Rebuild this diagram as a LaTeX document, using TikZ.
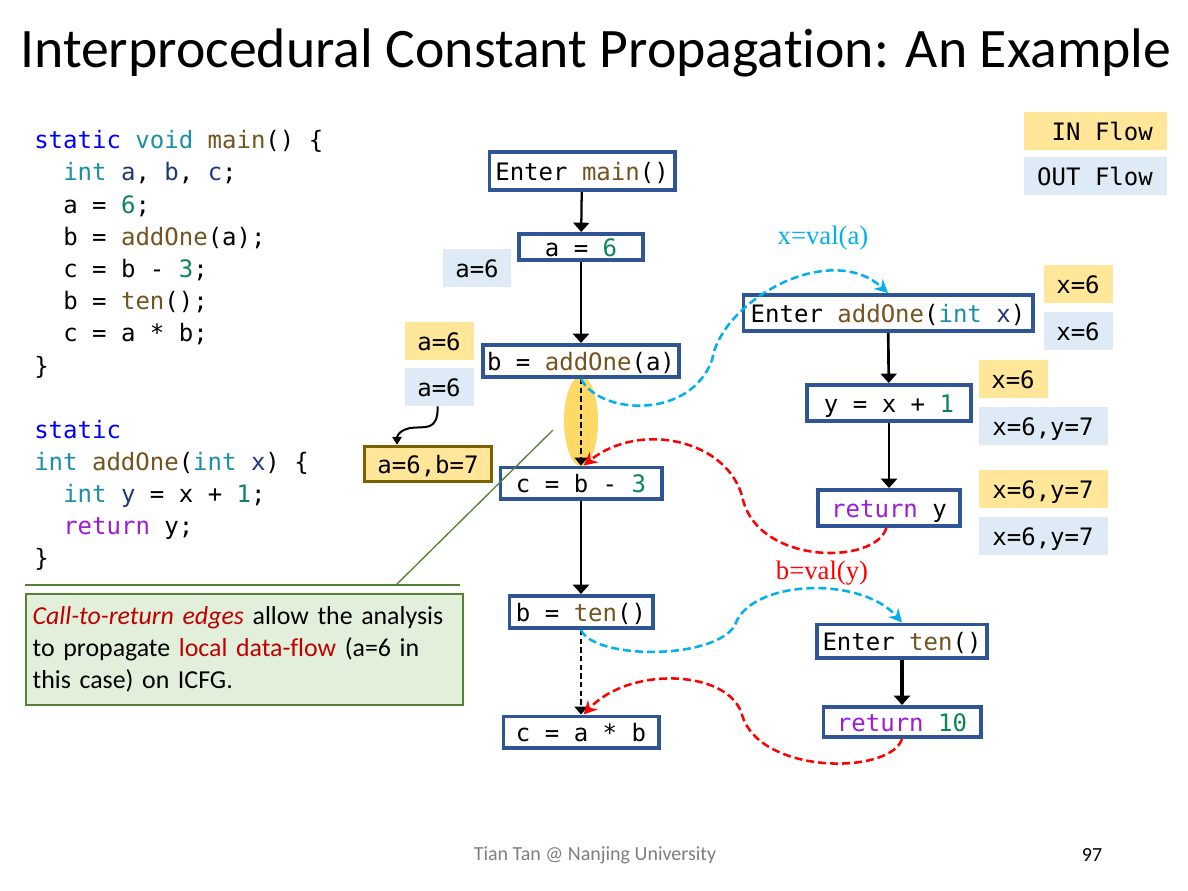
\documentclass[tikz,border=0pt]{standalone}
\usepackage{fontspec}
\usetikzlibrary{arrows.meta,shapes.geometric}
\setmainfont{Carlito}[Ligatures={NoCommon}]
\newfontfamily\codefont{DejaVu Sans Mono}
\newfontfamily\valfont{Liberation Serif}
\definecolor{boxblue}{HTML}{2F5597}
\definecolor{kwblue}{HTML}{0000FF}
\definecolor{tyteal}{HTML}{1A8FA8}
\definecolor{fnbrown}{HTML}{74531F}
\definecolor{numgreen}{HTML}{098658}
\definecolor{varnavy}{HTML}{1F377F}
\definecolor{retpurple}{HTML}{9B1BD6}
\definecolor{infill}{HTML}{FFE699}
\definecolor{outfill}{HTML}{DEEBF7}
\definecolor{abborder}{HTML}{7F6000}
\definecolor{hlfill}{HTML}{FFD966}
\definecolor{notefill}{HTML}{E2EFDA}
\definecolor{notedraw}{HTML}{548235}
\definecolor{callcyan}{HTML}{00B0F0}
\definecolor{retred}{HTML}{FF0000}
\definecolor{emred}{HTML}{C00000}
\definecolor{footgray}{HTML}{7F7F7F}
\newcommand\cKw[1]{\textcolor{kwblue}{#1}}
\newcommand\cTy[1]{\textcolor{tyteal}{#1}}
\newcommand\cFn[1]{\textcolor{fnbrown}{#1}}
\newcommand\cNum[1]{\textcolor{numgreen}{#1}}
\newcommand\cVar[1]{\textcolor{varnavy}{#1}}
\newcommand\cRet[1]{\textcolor{retpurple}{#1}}
\newcommand\mono{\codefont\fontsize{18pt}{20pt}\selectfont}
\tikzset{
  code/.style={anchor=base west, inner sep=0pt, font=\mono},
  cfg/.style={draw=boxblue, line width=2.7pt, fill=white, font=\mono, inner sep=0pt, text height=15.5pt, text depth=2pt},
  sz/.style 2 args={minimum width=#1*0.75pt-2.7pt, minimum height=#2*0.75pt-2.7pt},
  flowbox/.style={inner sep=0pt, font=\mono, text height=15.5pt, text depth=2pt, minimum height=38*0.75pt},
  inflow/.style={flowbox, fill=infill},
  outflow/.style={flowbox, fill=outfill},
  flowarrow/.style={-{Triangle[width=12pt,length=7pt]}, line width=1.7pt},
  ctrarrow/.style={-{Triangle[width=10pt,length=6pt]}, line width=1.1pt, dash pattern=on 4pt off 2.5pt},
  callarrow/.style={draw=callcyan, line width=1.9pt, dash pattern=on 6pt off 3pt, -{Stealth[length=10pt,width=10pt]}},
  retarrow/.style={draw=retred, line width=1.9pt, dash pattern=on 6pt off 3pt, -{Stealth[length=10pt,width=10pt]}},
  leader/.style={draw=notedraw, line width=1pt}
}
\begin{document}
\begin{tikzpicture}[x=0.75pt,y=-0.75pt]
\useasboundingbox (0,0) rectangle (1188,890);
\fill[white] (0,0) rectangle (1188,890);

% title
\node[anchor=base west, inner sep=0pt, font=\fontsize{41.8pt}{50pt}\selectfont] (title) at (20,67) {Interprocedural Constant Propagation: An Example};

% code
\node[code] (l1) at (34,148) {\cKw{static} \cTy{void} \cFn{main}() \{};
\node[code] (l2) at (63,180) {\cTy{int} \cVar{a}, \cVar{b}, \cVar{c};};
\node[code] (l3) at (63,213) {a = \cNum{6};};
\node[code] (l4) at (63,245) {b = \cFn{addOne}(a);};
\node[code] (l5) at (63,277) {c = b - \cNum{3};};
\node[code] (l6) at (63,309) {b = \cFn{ten}();};
\node[code] (l7) at (63,341) {c = a * b;};
\node[code] (l8) at (34,374) {\}};
\node[code] (l9) at (34,438) {\cKw{static}};
\node[code] (l10) at (34,470) {\cTy{int} \cFn{addOne}(\cTy{int} \cVar{x}) \{};
\node[code] (l11) at (63,502) {\cTy{int} \cVar{y} = x + \cNum{1};};
\node[code] (l12) at (63,534) {\cRet{return} y;};
\node[code] (l13) at (34,566) {\}};

% legend
\node[inflow, minimum width=143*0.75pt] (inleg) at (1095,131) {\phantom{X}IN Flow};
\node[outflow, minimum width=143*0.75pt] (outleg) at (1095,176) {OUT Flow};

% highlight ellipse
\node[ellipse, fill=hlfill, draw=none, minimum width=34*0.75pt, minimum height=90*0.75pt, inner sep=0pt] (hl) at (581,421) {};

% main CFG
\node[cfg, sz={189}{42}] (emain) at (582,171) {Enter \cFn{main}()};
\node[cfg, sz={128}{30}] (a6) at (581,247) {a = \cNum{6}};
\node[cfg, sz={200}{36}] (badd) at (581,361) {b = \cFn{addOne}(a)};
\node[cfg, sz={165}{35}] (cb3) at (581,483) {c = b - \cNum{3}};
\node[cfg, sz={147}{36}] (bten) at (581,612) {b = \cFn{ten}()};
\node[cfg, sz={159}{35}] (cab) at (581,732) {c = a * b};

% addOne CFG
\node[cfg, sz={293}{40}] (eadd) at (888,313) {Enter \cFn{addOne}(\cTy{int} \cVar{x})};
\node[cfg, sz={168}{40}] (yx1) at (889,403) {y = x + \cNum{1}};
\node[cfg, sz={146}{40}] (rety) at (889,508) {\cRet{return} y};

% ten CFG
\node[cfg, sz={174}{37}] (eten) at (902,641) {Enter \cFn{ten}()};
\node[cfg, sz={161}{34}] (ret10) at (902,722) {\cRet{return} \cNum{10}};

% flow facts
\node[outflow, minimum width=68*0.75pt] (fa1) at (477,268) {a=6};
\node[inflow, minimum width=69*0.75pt] (fa2) at (439,341) {a=6};
\node[outflow, minimum width=69*0.75pt] (fa3) at (439,387) {a=6};
\node[inflow, draw=abborder, line width=2.5pt, minimum width=127*0.75pt, minimum height=35*0.75pt] (fab) at (428,464) {a=6,b=7};
\node[inflow, minimum width=69*0.75pt] (fx1) at (1078,284) {x=6};
\node[outflow, minimum width=69*0.75pt] (fx2) at (1078,331) {x=6};
\node[inflow, minimum width=69*0.75pt] (fx3) at (1013,379) {x=6};
\node[outflow, minimum width=129*0.75pt] (fx4) at (1043,426) {x=6,y=7};
\node[inflow, minimum width=129*0.75pt] (fx5) at (1043,489) {x=6,y=7};
\node[outflow, minimum width=129*0.75pt] (fx6) at (1043,536) {x=6,y=7};

% intra edges
\draw[flowarrow] (emain) -- (a6);
\draw[flowarrow] (a6) -- (badd);
\draw[ctrarrow] (badd) -- (cb3);
\draw[flowarrow] (cb3) -- (bten);
\draw[ctrarrow] (bten) -- (cab);
\draw[flowarrow, line width=2pt] (eadd) -- (yx1);
\draw[flowarrow, line width=2pt] (yx1) -- (rety);
\draw[flowarrow, line width=2.3pt] (eten) -- (ret10);

% call / return edges
\draw[callarrow] (badd.south) .. controls (600,415) and (690,420) .. (712,360) .. controls (722,300) and (830,240) .. (eadd.north);
\draw[retarrow] ([xshift=-2pt]rety.south) .. controls (875,565) and (760,565) .. (743,500) .. controls (730,440) and (640,420) .. ([xshift=2pt]cb3.north);
\draw[callarrow] (bten.south) .. controls (595,660) and (715,660) .. (735,625) .. controls (750,580) and (860,575) .. (eten.north);
\draw[retarrow] (ret10.south) .. controls (890,775) and (760,775) .. (742,715) .. controls (730,670) and (630,665) .. ([xshift=2pt]cab.north);

% edge labels
\node[font=\valfont\fontsize{20pt}{24pt}\selectfont, text=callcyan, inner sep=0pt] (lblx) at (823,238) {x=val(a)};
\node[font=\valfont\fontsize{20pt}{24pt}\selectfont, text=retred, inner sep=0pt] (lblb) at (822,573) {b=val(y)};

% curly arrow
\draw[line width=1.5pt, -{Triangle[width=7pt,length=6pt]}] ([xshift=-1pt]fa3.south) .. controls (438,432) and (425,426) .. (410,428) .. controls (397,431) and (397,438) .. ([xshift=-31*0.75pt]fab.north);

% callout
\coordinate (nl) at (25,585);
\coordinate (nr) at (460,585);
\coordinate (nk) at (396,585);
\coordinate (ntip) at (553,430);
\draw[leader, line width=1.4pt] (nl) -- (nr);
\draw[leader] (nk) -- (ntip);
\node[anchor=north west, fill=notefill, draw=notedraw, line width=1.5pt, minimum width=434*0.75pt, minimum height=111*0.75pt, text width=424*0.75pt, inner xsep=5pt, inner ysep=0pt, align=left, font=\fontsize{19.4pt}{24pt}\selectfont] (note) at (25,593) {\textcolor{emred}{\itshape Call-to-return edges} allow the analysis\\ to propagate \textcolor{emred}{local data-flow} (a=6 in\\ this case) on ICFG.};

% footer
\node[font=\fontsize{15pt}{18pt}\selectfont, text=footgray, inner sep=0pt] (foot) at (595,855) {Tian Tan @ Nanjing University};
\node[font=\fontsize{15pt}{18pt}\selectfont, inner sep=0pt] (pnum) at (1092,855) {97};
\end{tikzpicture}
\end{document}
